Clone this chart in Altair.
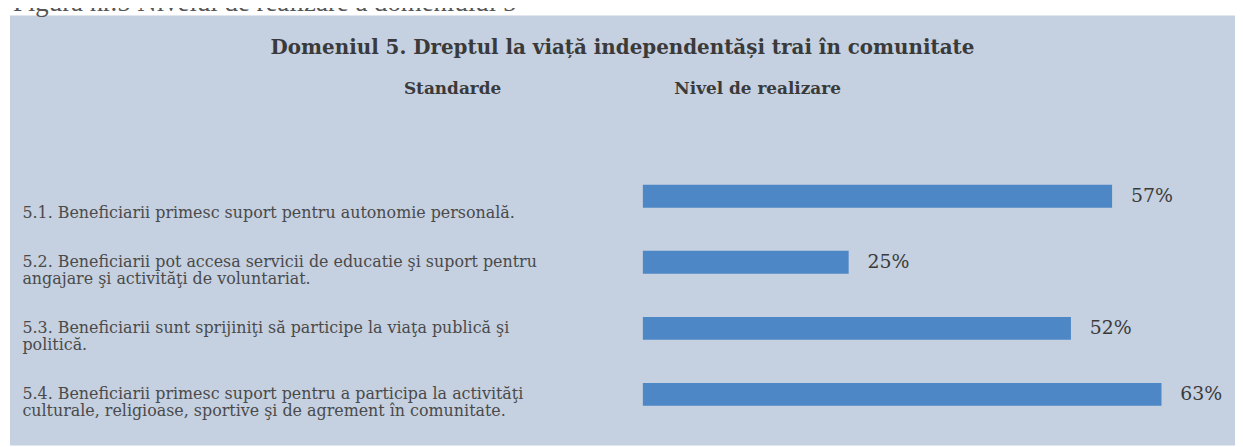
import altair as alt
import pandas as pd

# ---- data ----
caption = "Figura nr.5 Nivelul de realizare a domeniului 5"
chart_title = "Domeniul 5. Dreptul la viață independentăși trai în comunitate"
header_left = "Standarde"
header_right = "Nivel de realizare"

# label lines per standard (first standard's text sits one line below its bar)
label_lines = [
    ["", "5.1. Beneficiarii primesc suport pentru autonomie personală."],
    ["5.2. Beneficiarii pot accesa servicii de educatie şi suport pentru",
     "angajare şi activităţi de voluntariat."],
    ["\u00a05.3. Beneficiarii sunt sprijiniţi să participe la viaţa publică şi",
     "politică."],
    ["5.4. Beneficiarii primesc suport pentru a participa la activităţi",
     "culturale, religioase, sportive şi de agrement în comunitate."],
]
values = [57, 25, 52, 63]

PANEL = "#c5d0e0"
BAR = "#4d87c6"
DARK = "#3a3a3a"
GREY = "#4a4a4a"
SERIF = "DejaVu Serif"

df = pd.DataFrame({
    "standard": ["|".join(l) for l in label_lines],
    "value": values,
    "pct": [f"{v}%" for v in values],
})
order = list(df["standard"])

x_enc = alt.X(
    "value:Q",
    scale=alt.Scale(domain=[0, 70], range=[637, 1217], nice=False, zero=True),
    axis=alt.Axis(orient="top", labels=False, ticks=False, domain=False, grid=False,
                  title=header_right, titleX=752, titleY=74, titleAngle=0,
                  titleAlign="center", titleBaseline="middle",
                  titleFont=SERIF, titleFontSize=17, titleFontWeight="bold",
                  titleColor=DARK),
)
y_enc = alt.Y(
    "standard:N", sort=order,
    scale=alt.Scale(range=[148.75, 414.75], paddingInner=0, paddingOuter=0),
    axis=alt.Axis(orient="left", ticks=False, domain=False, grid=False,
                  labelAlign="left", labelBaseline="middle", labelPadding=-12,
                  labelLimit=0, labelExpr="split(datum.value, '|')",
                  labelLineHeight=17, labelFont=SERIF, labelFontSize=16,
                  labelColor=GREY,
                  title=header_left, titleAngle=0, titleX=445, titleY=74,
                  titleAlign="center", titleBaseline="middle",
                  titleFont=SERIF, titleFontSize=17, titleFontWeight="bold",
                  titleColor=DARK),
)

bars = alt.Chart(df).mark_bar(height=23, color=BAR).encode(x=x_enc, y=y_enc)
pcts = alt.Chart(df).mark_text(align="left", baseline="middle", dx=19,
                               font=SERIF, fontSize=19, color=DARK).encode(
    x="value:Q", y=alt.Y("standard:N", sort=order), text="pct:N")

cap = alt.Chart(pd.DataFrame({"t": [caption]})).mark_text(
    align="left", baseline="alphabetic", font="Liberation Serif", fontSize=27,
    color="#555555").encode(x=alt.value(3), y=alt.value(-4), text="t:N")

chart = alt.layer(bars, pcts, cap).properties(
    width=1233, height=433,
    title=alt.TitleParams(chart_title, anchor="middle", frame="group", offset=-36,
                          dy=43, baseline="middle", font=SERIF, fontSize=20,
                          fontWeight="bold", color=DARK),
    padding={"left": 2, "top": 6, "right": 0, "bottom": 0},
    autosize=alt.AutoSizeParams(type="none"),
).configure(background="white").configure_view(fill=PANEL, strokeWidth=0)

chart.save("out.html", embed_options={"renderer": "svg", "actions": False})
